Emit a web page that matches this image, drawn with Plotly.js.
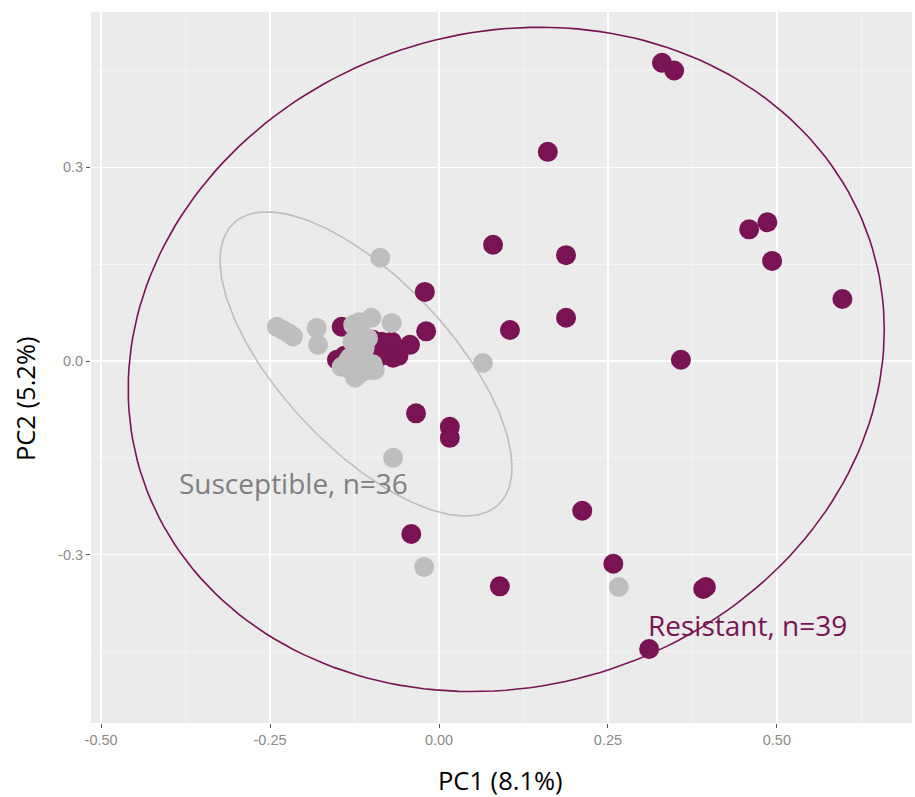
<!DOCTYPE html>
<html>
<head>
<meta charset="utf-8">
<script src="https://cdn.plot.ly/plotly-3.0.1.min.js"></script>
<style>html,body{margin:0;padding:0;background:#fff;}#chart{width:915px;height:797px;}</style>
</head>
<body>
<div id="chart"></div>
<script>
// Resistant group (PC1, PC2)
const resX = [0.330, 0.348, 0.161, 0.486, 0.459, 0.493, 0.597, 0.080, 0.188, 0.188, 0.105, 0.358,
  -0.021, -0.019, -0.034, 0.016, 0.016, 0.212, -0.041, 0.258, 0.090, 0.391, 0.395, 0.311,
  -0.144, -0.151, -0.140, -0.098, -0.085, -0.077, -0.043, -0.060, -0.068, -0.078, -0.095, -0.110, -0.120, -0.070, -0.090];
const resY = [0.462, 0.450, 0.324, 0.215, 0.204, 0.155, 0.096, 0.180, 0.164, 0.067, 0.048, 0.002,
  0.107, 0.046, -0.081, -0.102, -0.119, -0.232, -0.268, -0.314, -0.349, -0.353, -0.350, -0.446,
  0.053, 0.002, 0.008, 0.033, 0.030, 0.028, 0.025, 0.008, 0.005, 0.010, 0.015, 0.025, -0.005, 0.030, 0.005];
// Susceptible group (PC1, PC2)
const susX = [-0.087, 0.065, -0.068, -0.022, 0.266,
  -0.240, -0.231, -0.223, -0.216, -0.181, -0.179, -0.127, -0.100, -0.070, -0.122, -0.117,
  -0.144, -0.124, -0.095, -0.112, -0.107, -0.132, -0.122, -0.117, -0.137, -0.102, -0.118,
  -0.128, -0.110, -0.125, -0.098, -0.135, -0.115, -0.105, -0.120, -0.130];
const susY = [0.160, -0.003, -0.150, -0.319, -0.350,
  0.053, 0.048, 0.043, 0.038, 0.051, 0.025, 0.056, 0.067, 0.059, 0.040, 0.028,
  -0.009, -0.026, -0.014, 0.007, -0.003, 0.005, 0.017, 0.048, -0.009, -0.014, 0.060,
  0.030, 0.020, 0.010, -0.005, 0.000, -0.018, 0.035, 0.000, -0.015];

// Ellipse parameters: [centerX, centerY, varX, varY, covXY]
const resEllipse = [0.0995, 0.0025, 0.3130, 0.2647, 0.0257];
const susEllipse = [-0.108, -0.0045, 0.04666, 0.05546, -0.0346];

const groupLabels = ["Resistant, n=39", "Susceptible, n=36"];
const axisTitles = ["PC1 (8.1%)", "PC2 (5.2%)"];
const xTickVals = [-0.5, -0.25, 0, 0.25, 0.5];
const xTickText = ["-0.50", "-0.25", "0.00", "0.25", "0.50"];
const yTickVals = [-0.3, 0, 0.3];
const yTickText = ["-0.3", "0.0", "0.3"];

const purple = '#7A1353';
const grey = '#BEBEBE';

function ellipsePath(p) {
  const [cx, cy, sxx, syy, sxy] = p;
  const a = Math.sqrt(sxx);
  const c = sxy / a;
  const b = Math.sqrt(syy - c * c);
  const xs = [], ys = [];
  for (let i = 0; i <= 200; i++) {
    const t = 2 * Math.PI * i / 200;
    xs.push(cx + a * Math.cos(t));
    ys.push(cy + c * Math.cos(t) + b * Math.sin(t));
  }
  return {xs, ys};
}
const re = ellipsePath(resEllipse);
const se = ellipsePath(susEllipse);

const traces = [
  {x: re.xs, y: re.ys, mode: 'lines', line: {color: purple, width: 1.6}, hoverinfo: 'skip'},
  {x: se.xs, y: se.ys, mode: 'lines', line: {color: grey, width: 1.6}, hoverinfo: 'skip'},
  {x: resX, y: resY, mode: 'markers', marker: {color: purple, size: 20, line: {width: 0}}},
  {x: susX, y: susY, mode: 'markers', marker: {color: grey, size: 20, line: {width: 0}}}
];

const axisCommon = {
  showgrid: true, gridcolor: '#FFFFFF', gridwidth: 1.3, zeroline: false,
  ticks: 'outside', ticklen: 4, tickwidth: 1, tickcolor: '#555555',
  tickfont: {family: 'Liberation Sans, Arial, sans-serif', size: 14.5, color: '#8A8A8A'},
  showline: false
};

const titleFont = {family: 'Open Sans, sans-serif', size: 25.5, color: '#000000'};

const layout = {
  width: 915, height: 797,
  margin: {l: 91, r: 3, t: 12, b: 74},
  paper_bgcolor: '#FFFFFF', plot_bgcolor: '#EBEBEB',
  showlegend: false,
  xaxis: Object.assign({}, axisCommon, {
    range: [-0.515, 0.700], tickmode: 'array', tickvals: xTickVals, ticktext: xTickText,
    minor: {tickvals: [-0.375, -0.125, 0.125, 0.375, 0.625], showgrid: true, gridcolor: '#F7F7F7', gridwidth: 0.7, ticks: ''}
  }),
  yaxis: Object.assign({}, axisCommon, {
    range: [-0.5607, 0.5406], tickmode: 'array', tickvals: yTickVals, ticktext: yTickText,
    minor: {tickvals: [-0.45, -0.15, 0.15, 0.45], showgrid: true, gridcolor: '#F7F7F7', gridwidth: 0.7, ticks: ''}
  }),
  annotations: [
    {x: -0.2147, y: -0.189, xref: 'x', yref: 'y', text: groupLabels[1], showarrow: false,
     font: {family: 'Open Sans, sans-serif', size: 28, color: '#808080'}},
    {x: 0.456, y: -0.409, xref: 'x', yref: 'y', text: groupLabels[0], showarrow: false,
     font: {family: 'Open Sans, sans-serif', size: 28, color: purple}},
    {x: 0.4988, y: -0.0802, xref: 'paper', yref: 'paper', xanchor: 'center', yanchor: 'middle',
     text: axisTitles[0], showarrow: false, font: titleFont},
    {x: -0.0804, y: 0.457, xref: 'paper', yref: 'paper', xanchor: 'center', yanchor: 'middle',
     text: axisTitles[1], textangle: -90, showarrow: false, font: titleFont}
  ]
};

Plotly.newPlot('chart', traces, layout, {displayModeBar: false, staticPlot: true});
</script>
</body>
</html>
